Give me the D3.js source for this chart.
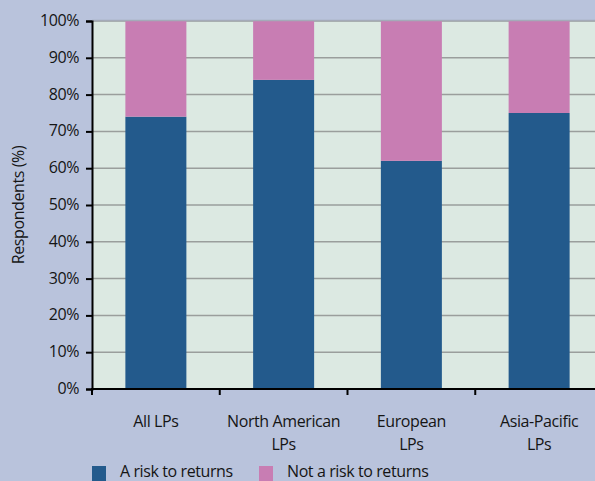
<!DOCTYPE html>
<html>
<head>
<meta charset="utf-8">
<script src="https://cdn.jsdelivr.net/npm/d3@7"></script>
<style>
  html, body { margin: 0; padding: 0; background: #b9c3dc; }
  svg { display: block; font-family: "Open Sans", "DejaVu Sans", sans-serif; }
</style>
</head>
<body>
<svg id="chart" width="595" height="481"></svg>
<script>
// Share of LPs who view the issue as a risk to returns, by region
const categories = ["All LPs", "North American LPs", "European LPs", "Asia-Pacific LPs"];
const categoryLines = [["All LPs"], ["North American", "LPs"], ["European", "LPs"], ["Asia-Pacific", "LPs"]];
const riskValues = [74, 84, 62, 75];
const notRiskValues = [26, 16, 38, 25];
const seriesNames = ["A risk to returns", "Not a risk to returns"];
const seriesColors = ["#235a8c", "#c87db3"];
const yTicks = [0, 10, 20, 30, 40, 50, 60, 70, 80, 90, 100];

const svg = d3.select("#chart");
const margin = { left: 92, top: 21, bottom: 389 };
const plotRight = 603;
const fontSize = 16, spacing = -0.4, textColor = "#151515";

const x = d3.scaleBand().domain(categories).range([margin.left, plotRight]).paddingInner(0).paddingOuter(0);
const y = d3.scaleLinear().domain([0, 100]).range([margin.bottom, margin.top]);
const barW = 61;

// plot background
svg.append("rect")
  .attr("x", margin.left).attr("y", margin.top)
  .attr("width", plotRight - margin.left).attr("height", margin.bottom - margin.top)
  .attr("fill", "#dce9e2");

// horizontal gridlines
svg.append("g").selectAll("line").data(yTicks.filter(t => t > 0)).join("line")
  .attr("x1", margin.left).attr("x2", plotRight)
  .attr("y1", d => y(d)).attr("y2", d => y(d))
  .attr("stroke", "#9a9e9c").attr("stroke-width", 1.5);

// stacked bars
const rows = categories.map((c, i) => ({ cat: c, risk: riskValues[i], notRisk: notRiskValues[i] }));
const stack = d3.stack().keys(["risk", "notRisk"])(rows);
svg.append("g").selectAll("g").data(stack).join("g")
  .attr("fill", (d, i) => seriesColors[i])
  .selectAll("rect").data(d => d).join("rect")
  .attr("x", d => x(d.data.cat) + x.bandwidth() / 2 - barW / 2)
  .attr("width", barW)
  .attr("y", d => y(d[1]))
  .attr("height", d => y(d[0]) - y(d[1]));

// top border
svg.append("line")
  .attr("x1", margin.left).attr("x2", plotRight)
  .attr("y1", margin.top - 0.5).attr("y2", margin.top - 0.5)
  .attr("stroke", "#a4aab8").attr("stroke-width", 1.5);

// y axis
const yAxis = d3.axisLeft(y).tickValues(yTicks).tickFormat(d => d + "%").tickSize(6).tickPadding(7);
const gy = svg.append("g").attr("transform", `translate(${margin.left},0)`).call(yAxis);
gy.select(".domain").attr("stroke", "#000").attr("stroke-width", 2);
gy.selectAll(".tick line").attr("stroke", "#000").attr("stroke-width", 2);
gy.selectAll(".tick text").attr("font-size", fontSize).attr("fill", textColor)
  .attr("font-family", "'Open Sans', sans-serif").attr("letter-spacing", spacing)
  .attr("dy", "0.28em");

// x axis: line with ticks at band boundaries
const gx = svg.append("g");
gx.append("line")
  .attr("x1", margin.left - 1).attr("x2", plotRight)
  .attr("y1", margin.bottom).attr("y2", margin.bottom)
  .attr("stroke", "#000").attr("stroke-width", 2);
gx.selectAll("line.t").data(categories).join("line").attr("class", "t")
  .attr("x1", d => x(d)).attr("x2", d => x(d))
  .attr("y1", margin.bottom).attr("y2", margin.bottom + 6)
  .attr("stroke", "#000").attr("stroke-width", 2);

// category labels
const labels = svg.append("g").selectAll("text").data(categories).join("text")
  .attr("x", d => x(d) + x.bandwidth() / 2)
  .attr("y", 427)
  .attr("text-anchor", "middle")
  .attr("font-size", fontSize).attr("fill", textColor).attr("letter-spacing", spacing);
labels.selectAll("tspan").data((d, i) => categoryLines[i]).join("tspan")
  .attr("x", function () { return this.parentNode.getAttribute("x"); })
  .attr("dy", (d, i) => i === 0 ? 0 : 23)
  .text(d => d);

// y axis title
svg.append("text")
  .attr("transform", "translate(24,205) rotate(-90)")
  .attr("text-anchor", "middle")
  .attr("font-size", fontSize).attr("fill", textColor).attr("letter-spacing", spacing)
  .text("Respondents (%)");

// legend
const legendX = [92, 259];
const lg = svg.append("g").selectAll("g").data(seriesNames).join("g")
  .attr("transform", (d, i) => `translate(${legendX[i]},466)`);
lg.append("rect").attr("width", 14).attr("height", 15).attr("fill", (d, i) => seriesColors[i]);
lg.append("text").attr("x", 28).attr("y", 11)
  .attr("font-size", fontSize).attr("fill", textColor).attr("letter-spacing", spacing)
  .text(d => d);
</script>
</body>
</html>
